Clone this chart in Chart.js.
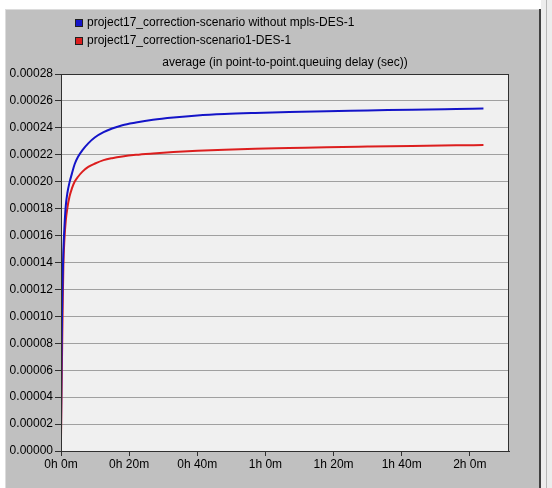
<!DOCTYPE html>
<html>
<head>
<meta charset="utf-8">
<script src="https://cdn.jsdelivr.net/npm/chart.js@4/dist/chart.umd.min.js"></script>
<style>
  html, body { margin: 0; padding: 0; background: #ffffff; }
  #wrap { width: 552px; height: 488px; }
</style>
</head>
<body>
<div id="wrap"><canvas id="chart" width="552" height="488"></canvas></div>
<script>
// time in minutes since start of simulation
var timesMin = [0, 0.1, 0.2, 0.3, 0.4, 0.5, 0.7, 1, 1.4, 1.9, 2.5, 3.2, 4, 5, 6.3, 8, 10, 12.5, 15, 18,
    22, 27, 33, 40, 48, 57, 67, 78, 90, 103, 116, 124];

var noMplsDelay = [0.000015, 0.00005, 0.00008, 0.0001, 0.000117, 0.00013, 0.000149, 0.000166, 0.000182, 0.000192,
    0.0001995, 0.000206, 0.000213, 0.0002185, 0.0002235, 0.0002285, 0.000233, 0.0002368, 0.0002395, 0.000242,
    0.000244, 0.000246, 0.0002477, 0.0002492, 0.0002503, 0.0002511, 0.0002518, 0.0002524, 0.0002529, 0.0002535,
    0.000254, 0.0002543];

var scenario1Delay = [0.00001, 0.00003, 0.00005, 0.00007, 0.00009, 0.000108, 0.000138, 0.000157, 0.000171, 0.000181,
    0.000189, 0.000195, 0.0002, 0.0002037, 0.0002075, 0.000211, 0.0002135, 0.000216, 0.0002175, 0.0002188,
    0.00022, 0.000221, 0.000222, 0.000223, 0.0002238, 0.0002245, 0.000225, 0.0002256, 0.0002261, 0.0002266,
    0.000227, 0.0002272];

var seriesNames = ["project17_correction-scenario without mpls-DES-1", "project17_correction-scenario1-DES-1"];
var chartTitle = "average (in point-to-point.queuing delay (sec))";

var xTickValues = [0, 20, 40, 60, 80, 100, 120];
var xTickLabels = ["0h 0m", "0h 20m", "0h 40m", "1h 0m", "1h 20m", "1h 40m", "2h 0m"];
var yTickValues = [0, 0.00002, 0.00004, 0.00006, 0.00008, 0.0001, 0.00012, 0.00014,
    0.00016, 0.00018, 0.0002, 0.00022, 0.00024, 0.00026, 0.00028];

function points(values)
{
    var out = [];
    for (var i = 0; i < timesMin.length; i++) {
        out.push({ x: timesMin[i], y: values[i] });
    }
    return out;
}

var FONT = "'Liberation Sans', Arial, sans-serif";

// window frame, plot background, legend and title
var frame = {
    id: "frame",
    beforeDraw: function (chart) {
        var c = chart.ctx, a = chart.chartArea;
        c.save();
        c.fillStyle = "#ffffff";
        c.fillRect(0, 0, 552, 488);
        c.fillStyle = "#c0c0c0";
        c.fillRect(5, 9, 534, 479);
        c.fillStyle = "#dcdcdc";
        c.fillRect(5, 9, 534, 1);
        c.fillRect(5, 9, 1, 479);
        c.fillStyle = "#404040";
        c.fillRect(539, 9, 2, 479);
        c.fillStyle = "#ededed";
        c.fillRect(541, 0, 11, 488);
        c.fillStyle = "#b8b8b8";
        c.fillRect(546, 0, 1, 488);
        c.fillStyle = "#f0f0f0";
        c.fillRect(a.left, a.top, a.right - a.left, a.bottom - a.top);
        c.restore();
    },
    afterDraw: function (chart) {
        var c = chart.ctx, a = chart.chartArea;
        c.save();
        c.strokeStyle = "#303030";
        c.lineWidth = 1;
        c.strokeRect(a.left + 0.5, a.top + 0.5, a.right - a.left - 1, a.bottom - a.top);

        c.font = "12px " + FONT;
        c.textBaseline = "middle";
        c.textAlign = "left";
        var rows = [23, 41];
        chart.data.datasets.forEach(function (ds, i) {
            c.fillStyle = ds.borderColor;
            c.fillRect(75, rows[i] - 4, 8, 8);
            c.strokeStyle = "#202020";
            c.strokeRect(75.5, rows[i] - 3.5, 7, 7);
            c.fillStyle = "#000000";
            c.fillText(ds.label, 87, rows[i]);
        });
        c.textAlign = "center";
        c.fillText(chartTitle, (a.left + a.right) / 2, 63);
        c.restore();
    }
};

new Chart(document.getElementById("chart"), {
    type: "line",
    data: {
        datasets: [
            {
                label: seriesNames[0],
                data: points(noMplsDelay),
                borderColor: "#1414c8",
                borderWidth: 2,
                pointRadius: 0,
                cubicInterpolationMode: "monotone"
            },
            {
                label: seriesNames[1],
                data: points(scenario1Delay),
                borderColor: "#dc1e1e",
                borderWidth: 2,
                pointRadius: 0,
                cubicInterpolationMode: "monotone"
            }
        ]
    },
    options: {
        responsive: false,
        animation: false,
        layout: { padding: { top: 74, right: 43, bottom: 7, left: 0 } },
        plugins: {
            legend: { display: false },
            title: { display: false },
            tooltip: { enabled: false }
        },
        scales: {
            x: {
                type: "linear",
                min: 0,
                max: 131.5,
                afterBuildTicks: function (axis) {
                    axis.ticks = xTickValues.map(function (v) { return { value: v }; });
                },
                afterFit: function (axis) { axis.height = 30; },
                grid: { drawOnChartArea: false, drawTicks: true, tickLength: 5, tickColor: "#303030" },
                border: { display: true, color: "#303030", width: 1 },
                ticks: {
                    autoSkip: false,
                    maxRotation: 0,
                    padding: 1,
                    color: "#000000",
                    font: { family: FONT, size: 12 },
                    callback: function (value, index) { return xTickLabels[index]; }
                }
            },
            y: {
                min: 0,
                max: 0.00028,
                afterBuildTicks: function (axis) {
                    axis.ticks = yTickValues.map(function (v) { return { value: v }; });
                },
                afterFit: function (axis) { axis.width = 61; },
                grid: { color: "#a0a0a0", lineWidth: 1, drawTicks: true, tickLength: 6, tickColor: "#303030" },
                border: { display: true, color: "#303030", width: 1 },
                ticks: {
                    padding: 2,
                    color: "#000000",
                    font: { family: FONT, size: 12 },
                    callback: function (value) { return value.toFixed(5); }
                }
            }
        }
    },
    plugins: [frame]
});
</script>
</body>
</html>
